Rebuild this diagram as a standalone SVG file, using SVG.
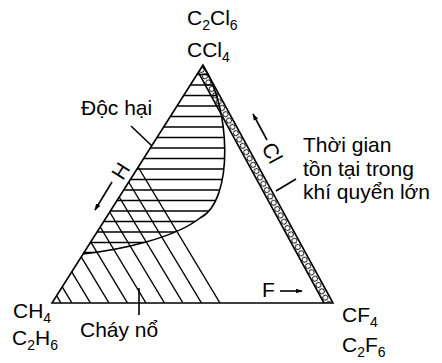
<svg xmlns="http://www.w3.org/2000/svg" width="442" height="363" viewBox="0 0 442 363">
<style>
.t{font-family:"Liberation Sans",Arial,sans-serif;font-size:21px;fill:#000}
.s{font-size:14px}
.ln{stroke:#000;fill:none;stroke-width:1.6}
.h{stroke:#000;stroke-width:1.4;fill:none}
</style>
<defs>
<pattern id="chain" patternUnits="userSpaceOnUse" width="7.2" height="7.4" patternTransform="translate(203,65) rotate(61.46)">
<circle cx="3.6" cy="3.7" r="2.6" fill="none" stroke="#000" stroke-width="0.9"/>
</pattern>
<clipPath id="toxic"><path d="M203,66 C230,105 235,200 200,218 C175,238 120,250 82.6,254 Z"/></clipPath>
<clipPath id="tri"><polygon points="203,65 52,303 333,303"/></clipPath>
<marker id="ah" viewBox="0 0 10 10" refX="9" refY="5" markerWidth="7" markerHeight="7" orient="auto" markerUnits="userSpaceOnUse"><path d="M0,1.5 L10,5 L0,8.5 Z" fill="#000"/></marker>
</defs>
<g id="triangle">
<polygon class="ln" points="203,65 52,303 333,303" stroke-width="1.8"/>
<polygon points="203,65 333,303 324,303 198.4,72.3" fill="url(#chain)"/>
<line class="ln" x1="198.4" y1="72.3" x2="324" y2="303" stroke-width="1.5"/>
</g>
<g id="toxic-region" clip-path="url(#toxic)">
<g class="h">
<line x1="60" y1="74.5" x2="240" y2="74.5"/>
<line x1="60" y1="85" x2="240" y2="85"/>
<line x1="60" y1="95.5" x2="240" y2="95.5"/>
<line x1="60" y1="106" x2="240" y2="106"/>
<line x1="60" y1="116.5" x2="240" y2="116.5"/>
<line x1="60" y1="127" x2="240" y2="127"/>
<line x1="60" y1="137.5" x2="240" y2="137.5"/>
<line x1="60" y1="148" x2="240" y2="148"/>
<line x1="60" y1="158.5" x2="240" y2="158.5"/>
<line x1="60" y1="169" x2="240" y2="169"/>
<line x1="60" y1="179.5" x2="240" y2="179.5"/>
<line x1="60" y1="190" x2="240" y2="190"/>
<line x1="60" y1="200.5" x2="240" y2="200.5"/>
<line x1="60" y1="211" x2="240" y2="211"/>
<line x1="60" y1="221.5" x2="240" y2="221.5"/>
<line x1="60" y1="232" x2="240" y2="232"/>
<line x1="60" y1="242.5" x2="240" y2="242.5"/>
<line x1="60" y1="252.5" x2="240" y2="252.5"/>
</g>
</g>
<path id="toxic-border" class="ln" d="M203,66 C230,105 235,200 200,218 C175,238 120,250 82.6,254"/>
<g id="flammable-region" clip-path="url(#tri)">
<g class="h">
<line x1="220" y1="303" x2="135.7" y2="163"/>
<line x1="201.5" y1="303" x2="117.2" y2="163"/>
<line x1="183" y1="303" x2="98.7" y2="163"/>
<line x1="164.5" y1="303" x2="80.2" y2="163"/>
<line x1="146" y1="303" x2="61.7" y2="163"/>
<line x1="127.5" y1="303" x2="43.2" y2="163"/>
<line x1="109" y1="303" x2="24.7" y2="163"/>
<line x1="90.5" y1="303" x2="6.2" y2="163"/>
<line x1="72" y1="303" x2="-12.3" y2="163"/>
<line x1="61" y1="303" x2="-23.3" y2="163"/>
</g>
</g>
<g id="connectors">
<line class="ln" x1="131" y1="126" x2="152" y2="146" stroke-width="1.3"/>
<line class="ln" x1="276" y1="191" x2="296" y2="179" stroke-width="1.3"/>
<line class="ln" x1="139" y1="288" x2="139" y2="315" stroke-width="1.3"/>
<line class="ln" x1="112" y1="182" x2="95" y2="210" stroke-width="1.5" marker-end="url(#ah)"/>
<line class="ln" x1="267" y1="140" x2="253" y2="114" stroke-width="1.5" marker-end="url(#ah)"/>
<line class="ln" x1="280" y1="291" x2="302" y2="291" stroke-width="1.5" marker-end="url(#ah)"/>
</g>
<g id="label-top"><text class="t" x="187" y="25">C<tspan class="s" dy="5">2</tspan><tspan dy="-5">Cl</tspan><tspan class="s" dy="5">6</tspan></text>
<text class="t" x="187" y="57">CCl<tspan class="s" dy="5">4</tspan></text></g>
<g id="label-left"><text class="t" x="13" y="318">CH<tspan class="s" dy="5">4</tspan></text>
<text class="t" x="12" y="345">C<tspan class="s" dy="5">2</tspan><tspan dy="-5">H</tspan><tspan class="s" dy="5">6</tspan></text></g>
<g id="label-right"><text class="t" x="342" y="322">CF<tspan class="s" dy="5">4</tspan></text>
<text class="t" x="342" y="352">C<tspan class="s" dy="5">2</tspan><tspan dy="-5">F</tspan><tspan class="s" dy="5">6</tspan></text></g>
<g id="label-toxic"><text class="t" x="81" y="115">Độc hại</text></g>
<g id="label-flammable"><text class="t" x="80" y="337">Cháy nổ</text></g>
<g id="label-lifetime"><text class="t" x="303" y="152">Thời gian</text>
<text class="t" x="303" y="176">tồn tại trong</text>
<text class="t" x="303" y="199">khí quyển lớn</text></g>
<g id="axis-labels">
<text class="t" x="0" y="0" text-anchor="middle" transform="translate(121,171) rotate(-57.5) translate(0,7)">H</text>
<text class="t" x="0" y="0" text-anchor="middle" transform="translate(272,153) rotate(61.5) translate(0,7)">Cl</text>
<text class="t" x="262" y="297">F</text>
</g>
</svg>
